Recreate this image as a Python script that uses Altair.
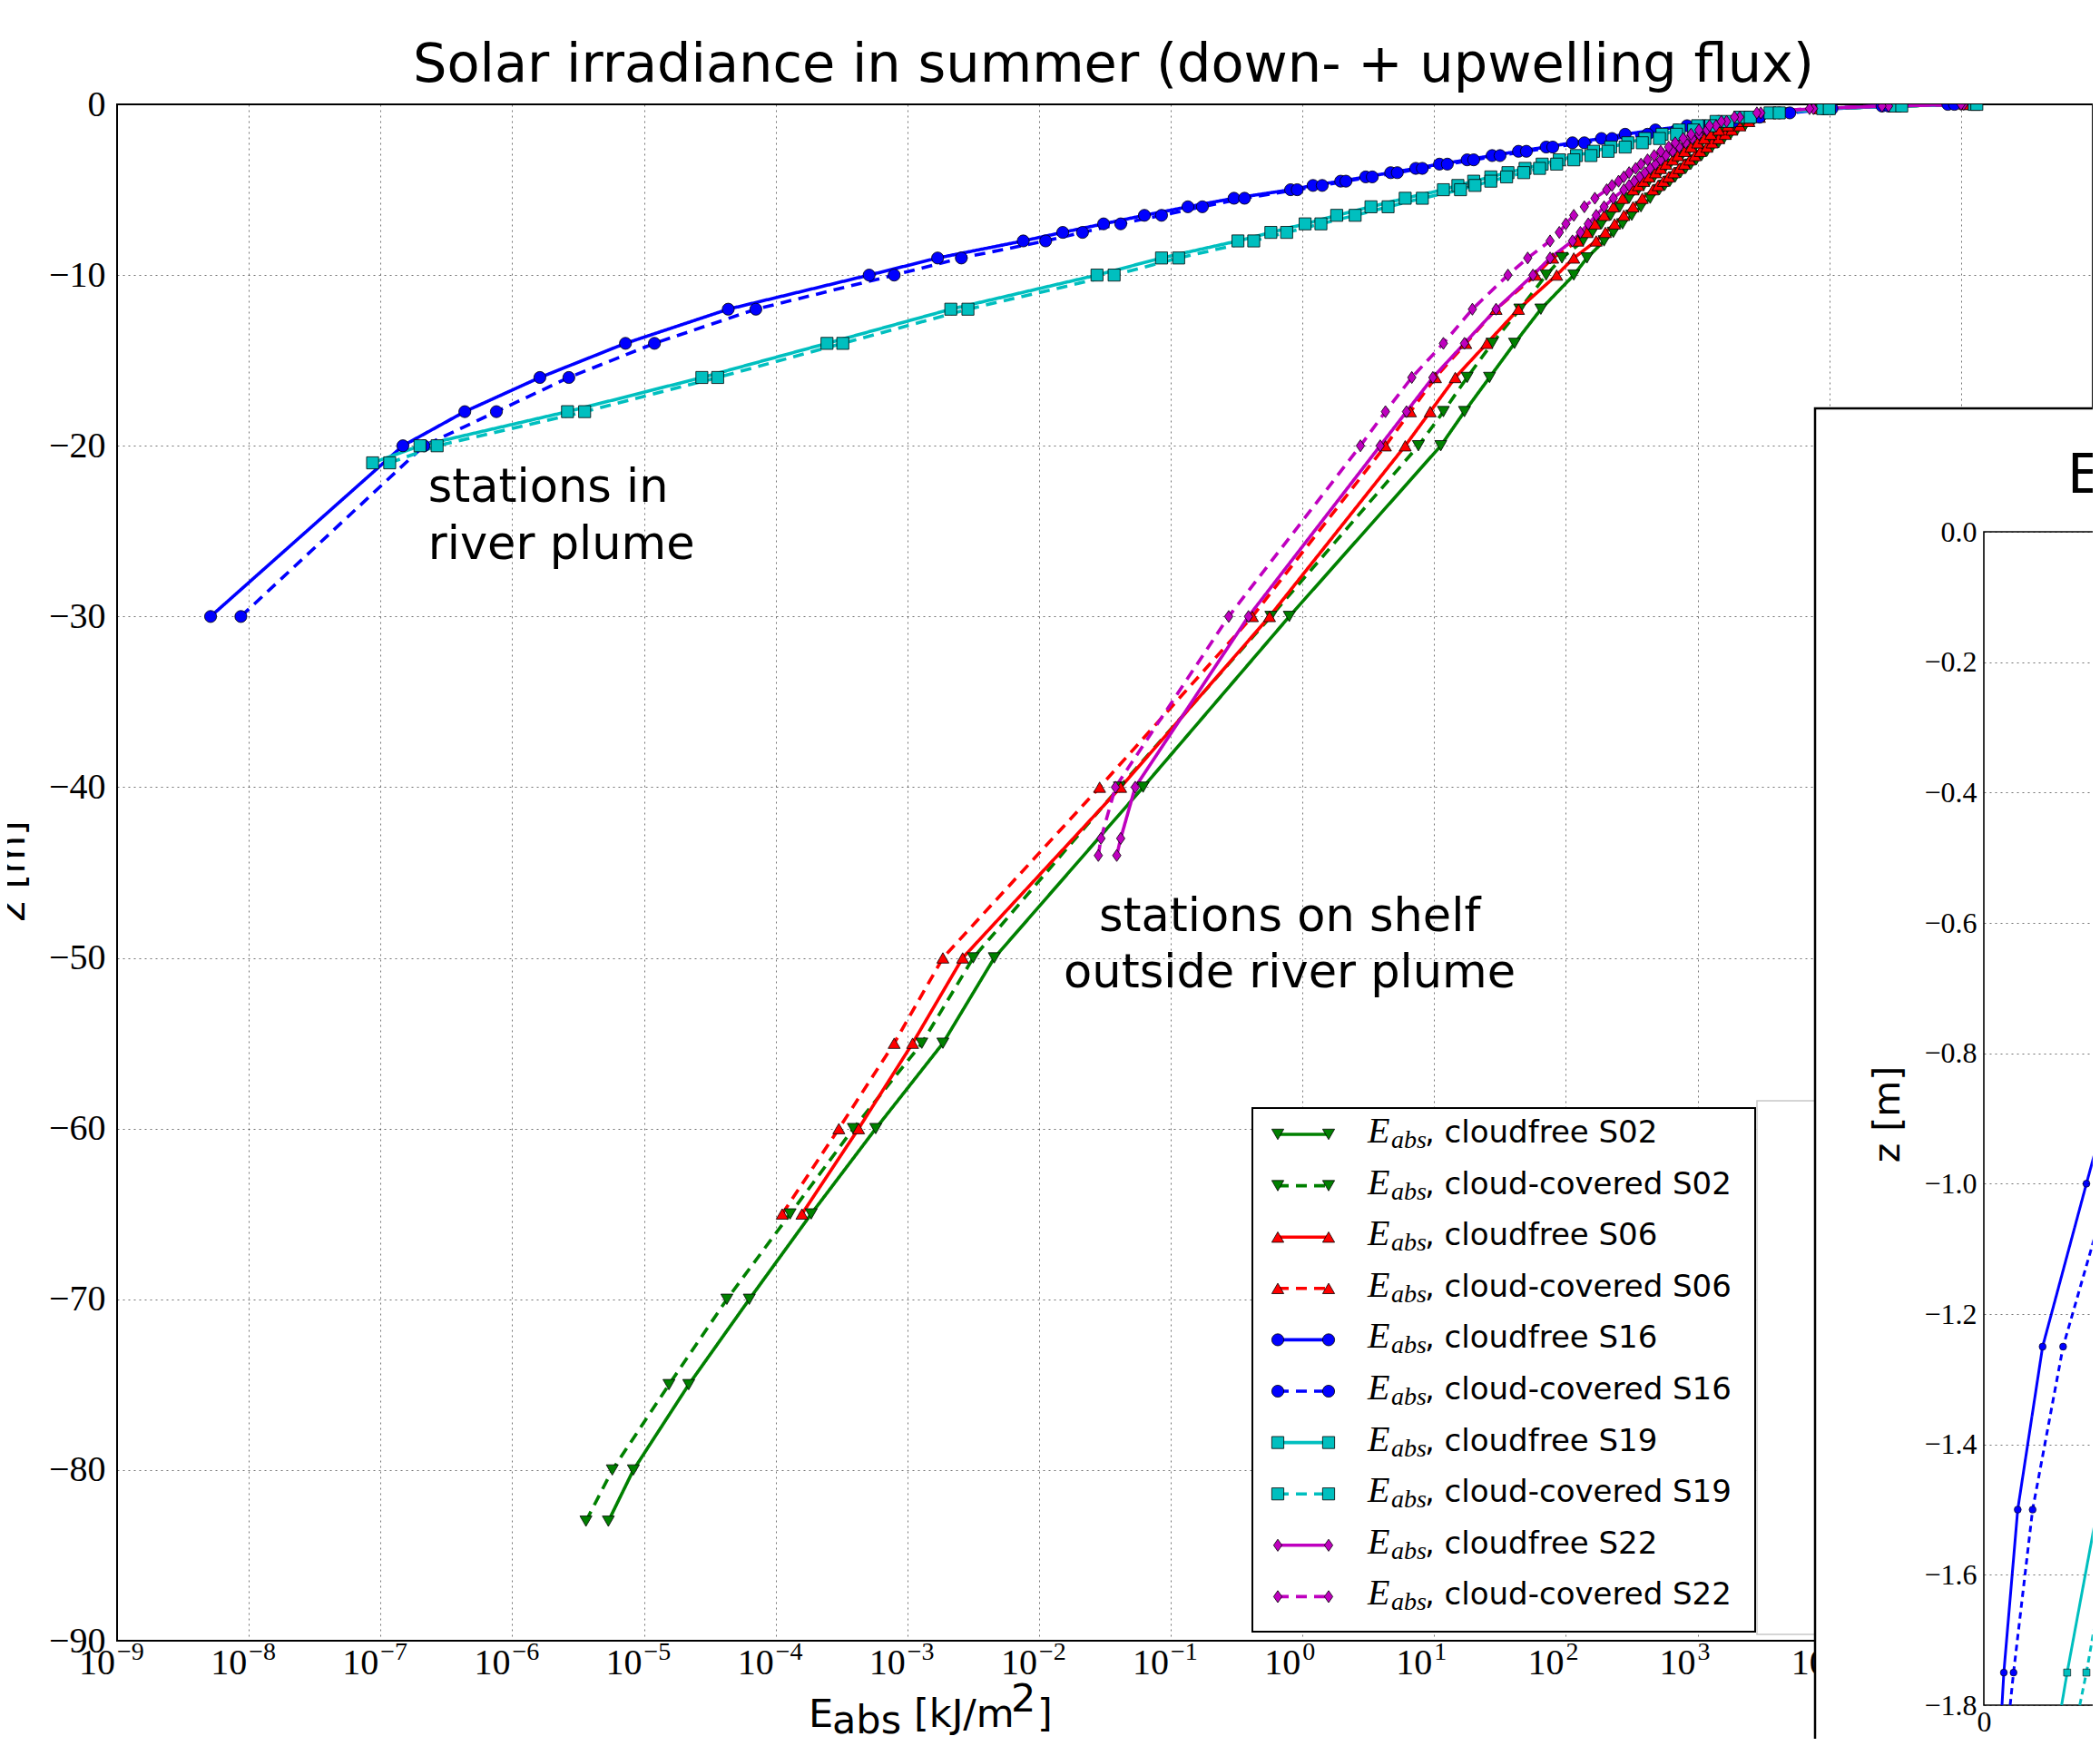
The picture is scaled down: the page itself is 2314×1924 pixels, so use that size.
import altair as alt
import pandas as pd

# ---------------- data ----------------
TITLE = "Solar irradiance in summer (down- + upwelling flux)"
STATIONS = ["S02", "S06", "S16", "S19", "S22"]
COLORS = ["#008000", "#ff0000", "#0000ff", "#00bfbf", "#bf00bf"]
SHAPES = ["triangle-down", "triangle-up", "circle", "square", "M0,-1L0.7,0L0,1L-0.7,0Z"]
MARKER_SIZES = [175, 175, 160, 145, 260]
SKIES = ["cloudfree", "cloud-covered"]

# depth levels shared by all stations in the upper 10 m
UPPER_Z = [-10, -9, -8, -7.5, -7, -6.5, -6, -5.5, -5, -4.75, -4.5, -4.25, -4, -3.75,
           -3.5, -3.25, -3, -2.75, -2.5, -2.25, -2, -1.75, -1.5, -1.25, -1, -0.75,
           -0.5, -0.25, -0.1, 0]

# log10(E_abs [kJ/m2])
Z_S02 = [-83, -80, -75, -70, -65, -60, -55, -50, -40, -30, -20, -18, -16, -14, -12] + UPPER_Z
LOG_S02_CF = [-5.27, -5.08, -4.66, -4.20, -3.73, -3.24, -2.73, -2.34, -1.21, -0.10, 1.05, 1.23, 1.42, 1.61, 1.81,
              2.06, 2.16, 2.29, 2.36, 2.43, 2.50, 2.57, 2.64, 2.71, 2.75, 2.79, 2.83, 2.87, 2.91, 2.95,
              2.99, 3.03, 3.07, 3.11, 3.16, 3.20, 3.25, 3.30, 3.36, 3.42, 3.50, 3.65, 3.98, 4.52, 5.06]
LOG_S02_CC = [-5.44, -5.24, -4.81, -4.37, -3.89, -3.41, -2.89, -2.50, -1.39, -0.24, 0.88, 1.07, 1.25, 1.44, 1.65,
              1.85, 1.97, 2.13, 2.20, 2.27, 2.34, 2.41, 2.48, 2.55, 2.59, 2.63, 2.67, 2.71, 2.75, 2.79,
              2.84, 2.88, 2.93, 2.98, 3.03, 3.08, 3.13, 3.19, 3.25, 3.32, 3.42, 3.58, 3.93, 4.49, 5.04]

Z_S06 = [-65, -60, -55, -50, -40, -30, -20, -18, -16, -14, -12] + UPPER_Z
LOG_S06_CF = [-3.80, -3.37, -2.96, -2.58, -1.38, -0.25, 0.78, 0.97, 1.16, 1.40, 1.64,
              1.93, 2.06, 2.23, 2.30, 2.37, 2.44, 2.51, 2.58, 2.66, 2.70, 2.74, 2.78, 2.82, 2.86, 2.90,
              2.94, 2.98, 3.02, 3.07, 3.11, 3.16, 3.21, 3.26, 3.32, 3.39, 3.47, 3.62, 3.95, 4.50, 5.05]
LOG_S06_CC = [-3.95, -3.52, -3.10, -2.73, -1.54, -0.38, 0.63, 0.82, 1.01, 1.24, 1.47,
              1.77, 1.90, 2.09, 2.16, 2.22, 2.29, 2.36, 2.43, 2.51, 2.55, 2.59, 2.63, 2.68, 2.72, 2.76,
              2.81, 2.85, 2.90, 2.95, 3.00, 3.05, 3.10, 3.16, 3.23, 3.30, 3.40, 3.56, 3.92, 4.48, 5.03]

Z_S16 = [-30, -20, -18, -16, -14, -12] + UPPER_Z
LOG_S16_CF = [-8.29, -6.83, -6.36, -5.79, -5.14, -4.36,
              -3.29, -2.77, -2.12, -1.82, -1.51, -1.20, -0.87, -0.52, -0.09, 0.08, 0.29, 0.48, 0.67,
              0.86, 1.04, 1.25, 1.44, 1.64, 1.85, 2.05, 2.27, 2.45, 2.68, 2.92, 3.16, 3.38, 3.62, 3.95,
              4.40, 4.90]
LOG_S16_CC = [-8.06, -6.67, -6.12, -5.57, -4.92, -4.15,
              -3.10, -2.59, -1.95, -1.67, -1.38, -1.07, -0.76, -0.44, -0.04, 0.15, 0.33, 0.53, 0.72,
              0.91, 1.10, 1.30, 1.50, 1.70, 1.90, 2.14, 2.35, 2.62, 2.84, 3.05, 3.27, 3.47, 3.70, 4.02,
              4.45, 4.95]

Z_S19 = [-21, -20, -18, -16, -14, -12] + UPPER_Z
LOG_S19_CF = [-7.06, -6.70, -5.58, -4.56, -3.61, -2.67,
              -1.56, -1.07, -0.49, -0.24, 0.02, 0.26, 0.52, 0.78, 1.07, 1.18, 1.30, 1.43, 1.56,
              1.69, 1.82, 1.95, 2.08, 2.21, 2.34, 2.47, 2.60, 2.73, 2.86, 3.00, 3.14, 3.32, 3.55, 3.95,
              4.50, 5.10]
LOG_S19_CC = [-6.93, -6.57, -5.45, -4.44, -3.49, -2.54,
              -1.43, -0.94, -0.37, -0.12, 0.14, 0.40, 0.65, 0.91, 1.20, 1.31, 1.43, 1.55, 1.68,
              1.80, 1.93, 2.06, 2.19, 2.32, 2.45, 2.58, 2.71, 2.84, 2.97, 3.10, 3.23, 3.40, 3.62, 4.00,
              4.55, 5.12]

Z_S22 = [-44, -43, -40, -30, -20, -18, -16, -14, -12] + UPPER_Z
LOG_S22_CF = [-1.41, -1.38, -1.27, -0.41, 0.59, 0.79, 0.99, 1.23, 1.47,
              1.75, 1.88, 2.05, 2.11, 2.17, 2.23, 2.29, 2.36, 2.44, 2.48, 2.52, 2.56, 2.60, 2.64,
              2.68, 2.72, 2.76, 2.81, 2.86, 2.91, 2.96, 3.01, 3.07, 3.14, 3.22, 3.32, 3.48, 3.88,
              4.45, 5.02]
LOG_S22_CC = [-1.55, -1.53, -1.42, -0.56, 0.44, 0.63, 0.83, 1.07, 1.29,
              1.56, 1.71, 1.88, 1.95, 2.00, 2.06, 2.14, 2.22, 2.31, 2.35, 2.40, 2.44, 2.48, 2.53,
              2.57, 2.62, 2.67, 2.72, 2.78, 2.83, 2.89, 2.95, 3.01, 3.09, 3.18, 3.28, 3.45, 3.85,
              4.40, 5.00]

# inset (linear axis, upper 1.8 m), values in kJ/m2
INSET_Z_S16_CF = [-1.8, -1.75, -1.5, -1.25, -1.0, -0.75]
INSET_E_S16_CF = [256, 282, 478, 829, 1447, 2070]
INSET_Z_S16_CC = [-1.8, -1.75, -1.5, -1.25, -1.0]
INSET_E_S16_CC = [371, 419, 688, 1118, 1780]
INSET_Z_S19_CF = [-1.8, -1.75, -1.5, -1.25]
INSET_E_S19_CF = [1097, 1175, 1601, 2300]
INSET_Z_S19_CC = [-1.8, -1.75, -1.5]
INSET_E_S19_CC = [1353, 1447, 1850]
INSET_X_DOMAIN = [0, 12800]
INSET_Y_TICKS = [0.0, -0.2, -0.4, -0.6, -0.8, -1.0, -1.2, -1.4, -1.6, -1.8]

X_TICKS = [1e-9, 1e-8, 1e-7, 1e-6, 1e-5, 1e-4, 1e-3, 1e-2, 1e-1, 1e0, 1e1, 1e2, 1e3, 1e4, 1e5, 1e6]
X_TICK_EXP = ["\u22129", "\u22128", "\u22127", "\u22126", "\u22125", "\u22124", "\u22123", "\u22122",
              "\u22121", "0", "1", "2", "3", "4", "5", "6"]
Y_TICKS = [0, -10, -20, -30, -40, -50, -60, -70, -80, -90]

ANNOT_LEFT_TEXT = ["stations in", "river plume"]
ANNOT_LEFT_E = [2.3e-7, 2.3e-7]
ANNOT_LEFT_Z = [-23.28, -26.63]
ANNOT_CENTER_TEXT = ["stations on shelf", "outside river plume"]
ANNOT_CENTER_E = [0.80, 0.80]
ANNOT_CENTER_Z = [-48.43, -51.73]

# ---------------- tables ----------------
SERIES = {
    "S02": (Z_S02, LOG_S02_CF, LOG_S02_CC),
    "S06": (Z_S06, LOG_S06_CF, LOG_S06_CC),
    "S16": (Z_S16, LOG_S16_CF, LOG_S16_CC),
    "S19": (Z_S19, LOG_S19_CF, LOG_S19_CC),
    "S22": (Z_S22, LOG_S22_CF, LOG_S22_CC),
}
rows = []
for st, (zs, cf, cc) in SERIES.items():
    assert len(zs) == len(cf) == len(cc), st
    for sky, vals in (("cloudfree", cf), ("cloud-covered", cc)):
        for z, lv in zip(zs, vals):
            rows.append({"station": st, "sky": sky, "series": sky + " " + st, "z": z, "E": 10 ** lv})
main_df = pd.DataFrame(rows)

inset_rows = []
for st, sky, zs, es in (("S16", "cloudfree", INSET_Z_S16_CF, INSET_E_S16_CF),
                        ("S16", "cloud-covered", INSET_Z_S16_CC, INSET_E_S16_CC),
                        ("S19", "cloudfree", INSET_Z_S19_CF, INSET_E_S19_CF),
                        ("S19", "cloud-covered", INSET_Z_S19_CC, INSET_E_S19_CC)):
    for i, (z, e) in enumerate(zip(zs, es)):
        inset_rows.append({"station": st, "sky": sky, "series": sky + " " + st, "z": z, "E": e,
                           "marker": i > 0})
inset_df = pd.DataFrame(inset_rows)
inset_pts = inset_df[inset_df["marker"]]

leg_rows = []
r = 0
for st in STATIONS:
    for sky in SKIES:
        leg_rows.append({"row": r, "station": st, "sky": sky, "label": ", " + sky + " " + st})
        r += 1
leg_df = pd.DataFrame(leg_rows)

SERIF = "Liberation Serif"
SANS = "DejaVu Sans"
W, H = 2177, 1693

color_scale = alt.Scale(domain=STATIONS, range=COLORS)
shape_scale = alt.Scale(domain=STATIONS, range=SHAPES)
size_scale = alt.Scale(domain=STATIONS, range=MARKER_SIZES)
dash_scale = alt.Scale(domain=SKIES, range=[[1, 0], [12, 8]])

xscale = alt.Scale(type="log", domain=[1e-9, 1e6], nice=False)
yscale = alt.Scale(domain=[-90, 0], nice=False, zero=False)

grid_kw = dict(grid=True, gridColor="#000000", gridOpacity=0.55, gridDash=[2, 4], gridWidth=1)
xax = alt.Axis(values=X_TICKS, labels=False, ticks=False, domain=False, title=None, **grid_kw)
yax = alt.Axis(orient="left", values=Y_TICKS, format="d", labelFont=SERIF, labelFontSize=40,
               labelColor="black", labelPadding=13, labelFlush=False, labelOverlap=False,
               ticks=False, domain=False, title=None, **grid_kw)
X = alt.X("E:Q", scale=xscale, axis=xax)
Y = alt.Y("z:Q", scale=yscale, axis=yax)


def txt(text, x, y, size, font=SANS, align="left", **kw):
    return alt.Chart(pd.DataFrame({"t": [text]})).mark_text(
        align=align, baseline="alphabetic", font=font, fontSize=size, color="black", **kw
    ).encode(x=alt.value(x), y=alt.value(y), text="t:N")


# ---------------- main panel ----------------
lines = alt.Chart(main_df).mark_line(strokeWidth=3.6, clip=True).encode(
    x=X, y=Y,
    color=alt.Color("station:N", scale=color_scale, legend=None),
    strokeDash=alt.StrokeDash("sky:N", scale=dash_scale, legend=None),
    detail="series:N",
    order=alt.Order("z:Q"),
)
points = alt.Chart(main_df).mark_point(filled=True, stroke="black", strokeWidth=0.8, opacity=1,
                                       clip=True).encode(
    x=X, y=Y,
    fill=alt.Fill("station:N", scale=color_scale, legend=None),
    shape=alt.Shape("station:N", scale=shape_scale, legend=None),
    size=alt.Size("station:N", scale=size_scale, legend=None),
)
tick_df = pd.DataFrame({"v": X_TICKS, "exp": X_TICK_EXP})
tick_base = alt.Chart(tick_df).mark_text(text="10", align="right", baseline="alphabetic", font=SERIF,
                                         fontSize=40, color="black", dx=-2).encode(
    x=alt.X("v:Q", scale=xscale, axis=xax), y=alt.value(1730))
tick_exp = alt.Chart(tick_df).mark_text(align="left", baseline="alphabetic", font=SERIF,
                                        fontSize=28, color="black").encode(
    x=alt.X("v:Q", scale=xscale, axis=xax), y=alt.value(1714), text="exp:N")

ann_l = alt.Chart(pd.DataFrame({"t": ANNOT_LEFT_TEXT, "E": ANNOT_LEFT_E, "z": ANNOT_LEFT_Z})).mark_text(
    align="left", baseline="alphabetic", font=SANS, fontSize=51, color="black").encode(x=X, y=Y, text="t:N")
ann_c = alt.Chart(pd.DataFrame({"t": ANNOT_CENTER_TEXT, "E": ANNOT_CENTER_E, "z": ANNOT_CENTER_Z})).mark_text(
    align="center", baseline="alphabetic", font=SANS, fontSize=51, color="black").encode(x=X, y=Y, text="t:N")

title = txt(TITLE, 1098, -25, 59, align="center")
ytitle = txt("z [m]", -102, 845, 43, align="center", angle=270)
xt_E = txt("E", 762, 1788, 43)
xt_abs = txt("abs", 788, 1795, 43)
xt_unit = txt("[kJ/m", 878, 1788, 43)
xt_sq = txt("2", 985, 1771, 43)
xt_br = txt("]", 1014, 1788, 43)

main = alt.layer(lines, points, tick_base, tick_exp, ann_l, ann_c, title, ytitle,
                 xt_E, xt_abs, xt_unit, xt_sq, xt_br)

# ---------------- legend ----------------
legend_y = alt.Scale(domain=[0, 9], range=[1135, 1644.4])
LY = alt.Y("row:Q", scale=legend_y, axis=None)
one = pd.DataFrame({"a": [0]})
gray_box = alt.Chart(one).mark_rect(fill="white", stroke="#c8c8c8", strokeWidth=1.5).encode(
    x=alt.value(1807), x2=alt.value(1900), y=alt.value(1098), y2=alt.value(1686))
leg_box = alt.Chart(one).mark_rect(fill="white", stroke="black", strokeWidth=2).encode(
    x=alt.value(1251), x2=alt.value(1805), y=alt.value(1106), y2=alt.value(1683))
leg_lines = alt.Chart(leg_df).mark_rule(strokeWidth=3.6).encode(
    x=alt.value(1279), x2=alt.value(1335), y=LY,
    color=alt.Color("station:N", scale=color_scale, legend=None),
    strokeDash=alt.StrokeDash("sky:N", scale=dash_scale, legend=None))


def leg_pts(xpos):
    return alt.Chart(leg_df).mark_point(filled=True, stroke="black", strokeWidth=0.8, opacity=1).encode(
        x=alt.value(xpos), y=LY,
        fill=alt.Fill("station:N", scale=color_scale, legend=None),
        shape=alt.Shape("station:N", scale=shape_scale, legend=None),
        size=alt.Size("station:N", scale=size_scale, legend=None))


leg_E = alt.Chart(leg_df).mark_text(text="E", align="left", baseline="alphabetic", font=SERIF,
                                    fontStyle="italic", fontSize=40, color="black", dy=9).encode(
    x=alt.value(1378), y=LY)
leg_abs = alt.Chart(leg_df).mark_text(text="abs", align="left", baseline="alphabetic", font=SERIF,
                                      fontStyle="italic", fontSize=28, color="black", dy=15).encode(
    x=alt.value(1404), y=LY)
leg_lbl = alt.Chart(leg_df).mark_text(align="left", baseline="alphabetic", font=SANS, fontSize=34,
                                      color="black", dy=9).encode(
    x=alt.value(1441), y=LY, text="label:N")
legend = alt.layer(gray_box, leg_box, leg_lines, leg_pts(1279), leg_pts(1335), leg_E, leg_abs, leg_lbl)

# ---------------- inset ----------------
ix = alt.Scale(domain=INSET_X_DOMAIN, range=[2057, 3057], nice=False, zero=False)
iy = alt.Scale(domain=[-1.8, 0], range=[1764, 471], nice=False, zero=False)
iyax = alt.Axis(orient="left", offset=-2057, values=INSET_Y_TICKS, format=".1f", labelFont=SERIF,
                labelFontSize=32, labelColor="black", labelPadding=8, labelFlush=False,
                labelOverlap=False, ticks=False, domain=False, title=None, zindex=1, **grid_kw)
ixax = alt.Axis(orient="bottom", offset=71, values=[0], format="d", labelFont=SERIF, labelFontSize=32,
                labelColor="black", labelPadding=3, labelFlush=False, ticks=False, domain=False,
                grid=False, title=None, zindex=1)
IX = alt.X("E:Q", scale=ix, axis=ixax)
IY = alt.Y("z:Q", scale=iy, axis=iyax)

inset_box = alt.Chart(one).mark_rect(fill="white", stroke="black", strokeWidth=2.5).encode(
    x=alt.value(1871), x2=alt.value(2400), y=alt.value(335), y2=alt.value(1950))
frame_df = pd.DataFrame({"E": [INSET_X_DOMAIN[0]], "E2": [INSET_X_DOMAIN[1]], "z": [0.0], "z2": [-1.8]})
inset_frame = alt.Chart(frame_df).mark_rect(fillOpacity=0, stroke="black", strokeWidth=1.6).encode(
    x=IX, x2="E2:Q", y=IY, y2="z2:Q")
idash = alt.Scale(domain=SKIES, range=[[1, 0], [7, 5]])
inset_lines = alt.Chart(inset_df).mark_line(strokeWidth=3).encode(
    x=IX, y=IY,
    color=alt.Color("station:N", scale=color_scale, legend=None),
    strokeDash=alt.StrokeDash("sky:N", scale=idash, legend=None),
    detail="series:N", order=alt.Order("z:Q"))
inset_points = alt.Chart(inset_pts).mark_point(filled=True, stroke="black", strokeWidth=0.6, opacity=1,
                                               size=60).encode(
    x=IX, y=IY,
    fill=alt.Fill("station:N", scale=color_scale, legend=None),
    shape=alt.Shape("station:N", scale=shape_scale, legend=None))
inset_title = txt("E", 2149, 428, 60)
inset_ytitle = txt("z [m]", 1964, 1113, 41, align="center", angle=270)

inset = alt.layer(inset_box, inset_frame, inset_lines, inset_points, inset_title, inset_ytitle)

chart = alt.layer(main, legend, inset).resolve_scale(
    x="independent", y="independent", strokeDash="independent"
).properties(
    width=W, height=H,
    autosize=alt.AutoSizeParams(type="none"),
    padding={"left": 121, "top": 107, "right": 0, "bottom": 108},
    background="white",
).configure_view(stroke="black", strokeWidth=2)

chart.save("out.html", embed_options={"renderer": "svg", "actions": False})
